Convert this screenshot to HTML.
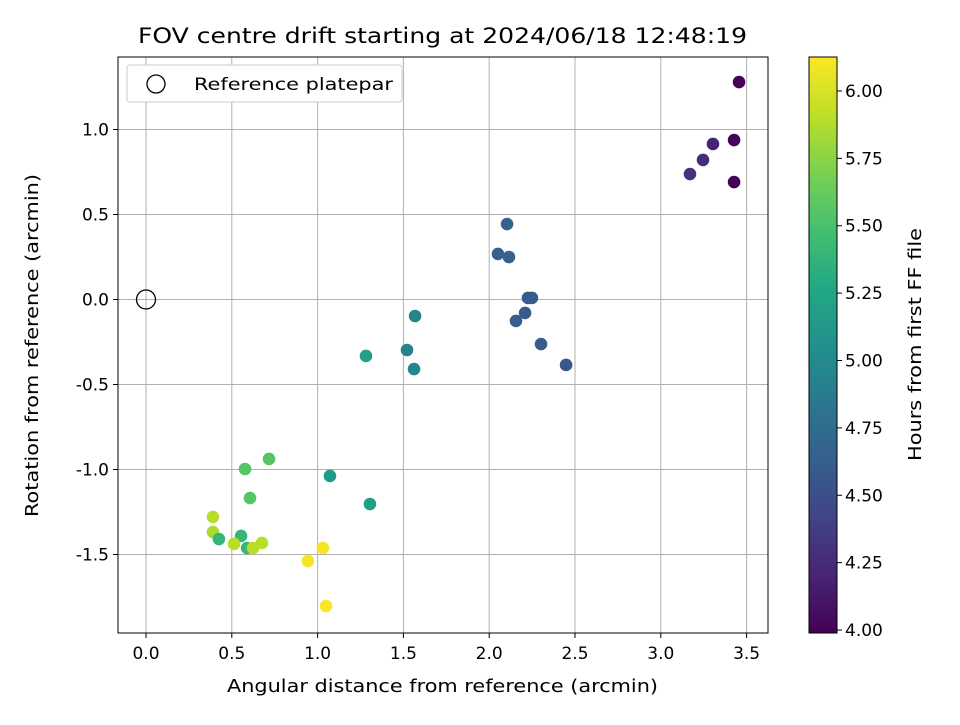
<!DOCTYPE html>
<html><head><meta charset="utf-8"><style>
body{margin:0;background:#fff;font-family:"Liberation Sans","DejaVu Sans",sans-serif}
svg text{font-family:"DejaVu Sans","Liberation Sans",sans-serif;font-size:17px;fill:#000}
</style></head><body>
<svg id="chart" width="960" height="720" viewBox="0 0 960 720" xmlns="http://www.w3.org/2000/svg">
<defs>
<linearGradient id="vir" x1="0" y1="1" x2="0" y2="0">
<stop offset="0" stop-color="#440154"/><stop offset="0.1" stop-color="#482475"/><stop offset="0.2" stop-color="#414487"/><stop offset="0.3" stop-color="#355f8d"/><stop offset="0.4" stop-color="#2a788e"/><stop offset="0.5" stop-color="#21918c"/><stop offset="0.6" stop-color="#22a884"/><stop offset="0.7" stop-color="#44bf70"/><stop offset="0.8" stop-color="#7ad151"/><stop offset="0.9" stop-color="#bddf26"/><stop offset="1" stop-color="#fde725"/>
</linearGradient>
</defs>
<text x="138" y="43" textLength="609" lengthAdjust="spacingAndGlyphs" style="font-size:21px">FOV centre drift starting at 2024/06/18 12:48:19</text>
<g id="grid"></g>
<g id="pts"></g>
<rect x="118" y="57" width="650" height="576" fill="none" stroke="#000" stroke-width="1"/>
<g id="axes"></g>
<text x="227" y="692" textLength="431" lengthAdjust="spacingAndGlyphs" style="font-size:18px">Angular distance from reference (arcmin)</text>
<text transform="translate(38,517) rotate(-90)" textLength="343" lengthAdjust="spacingAndGlyphs" style="font-size:18px">Rotation from reference (arcmin)</text>
<g>
<rect x="127" y="65" width="275" height="37" rx="3" fill="#fff" stroke="#ccc"/>
<circle cx="156" cy="84" r="9" fill="none" stroke="#000" stroke-width="1.3"/>
<text x="194" y="90" textLength="199" lengthAdjust="spacingAndGlyphs">Reference platepar</text>
</g>
<rect x="809" y="57" width="28" height="576" fill="url(#vir)" stroke="#000"/>
<g id="cbar"></g>
<text transform="translate(921,461) rotate(-90)" textLength="233" lengthAdjust="spacingAndGlyphs" style="font-size:18px">Hours from first FF file</text>
</svg>
<script>
const xs=[3.456,3.427,3.427,3.304,3.246,3.170,2.104,2.051,2.115,2.226,2.249,2.209,2.156,2.302,2.448,1.568,1.521,1.562,1.282,1.072,1.305,0.717,0.577,0.606,0.39,0.39,0.425,0.554,0.589,0.513,0.624,0.676,0.944,1.031,1.049];
const ys=[1.279,0.938,0.691,0.915,0.821,0.738,0.444,0.268,0.25,0.009,0.009,-0.079,-0.126,-0.262,-0.385,-0.097,-0.297,-0.409,-0.332,-1.038,-1.203,-0.938,-0.997,-1.168,-1.279,-1.368,-1.409,-1.391,-1.462,-1.438,-1.462,-1.432,-1.538,-1.462,-1.803];
const hours=[4.0,4.02,4.0,4.2,4.25,4.3,4.65,4.65,4.65,4.6,4.6,4.6,4.62,4.6,4.55,4.95,4.95,4.97,5.2,5.15,5.2,5.55,5.55,5.55,5.9,5.85,5.4,5.4,5.4,5.9,5.9,5.9,6.1,6.1,6.12];
const xTicks=[0,0.5,1,1.5,2,2.5,3,3.5];
const yTicks=[-1.5,-1,-0.5,0,0.5,1];
const cTicks=[4.0,4.25,4.5,4.75,5.0,5.25,5.5,5.75,6.0];
const NS="http://www.w3.org/2000/svg";
const X=v=>146+v*171.6, Y=v=>299.5-v*170;
const cMin=3.989,cMax=6.126, C=v=>633-(v-cMin)/(cMax-cMin)*576;
const vir=["#440154","#482475","#414487","#355f8d","#2a788e","#21918c","#22a884","#44bf70","#7ad151","#bddf26","#fde725"];
function hex(h){return [1,3,5].map(i=>parseInt(h.substr(i,2),16));}
function cmap(v){let t=Math.max(0,Math.min(1,(v-cMin)/(cMax-cMin)))*10;let i=Math.min(9,Math.floor(t)),f=t-i;const a=hex(vir[i]),b=hex(vir[i+1]);return "rgb("+a.map((c,k)=>Math.round(c+(b[k]-c)*f)).join(",")+")";}
function mk(t,at,p){const e=document.createElementNS(NS,t);for(const k in at)e.setAttribute(k,at[k]);p.appendChild(e);return e;}
const g=document.getElementById('grid'),ax=document.getElementById('axes'),pts=document.getElementById('pts'),cb=document.getElementById('cbar');
xTicks.forEach(v=>{const l=mk('line',{x1:X(v),x2:X(v),y1:57,y2:633,stroke:'#b0b0b0','stroke-width':1},g);


mk('line',{x1:X(v),x2:X(v),y1:633,y2:638,stroke:'#000'},ax);
const t=mk('text',{x:X(v),y:659,'text-anchor':'middle'},ax);t.textContent=v.toFixed(1);

});
yTicks.forEach(v=>{const l=mk('line',{x1:118,x2:768,y1:Y(v),y2:Y(v),stroke:'#b0b0b0','stroke-width':1},g);


mk('line',{x1:113,x2:118,y1:Y(v),y2:Y(v),stroke:'#000'},ax);
const t=mk('text',{x:109,y:Y(v)+6,'text-anchor':'end'},ax);t.textContent=v.toFixed(1);

});
cTicks.forEach(v=>{mk('line',{x1:837,x2:842,y1:C(v),y2:C(v),stroke:'#000'},cb);
const t=mk('text',{x:845,y:C(v)+6},cb);t.textContent=v.toFixed(2);

});
const ref=mk('circle',{cx:X(0),cy:Y(0),r:9.5,fill:'none',stroke:'#000','stroke-width':1.3},pts);


xs.forEach((x,i)=>{const c=mk('circle',{cx:X(x),cy:Y(ys[i]),r:6.3,fill:cmap(hours[i])},pts);

});
</script>
</body></html>
